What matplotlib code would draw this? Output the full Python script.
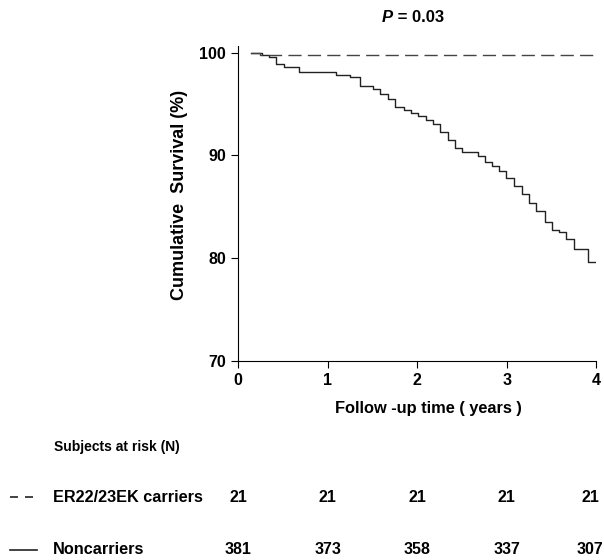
import matplotlib
matplotlib.use('Agg')
import matplotlib.pyplot as plt
import matplotlib.transforms as mtransforms
from matplotlib.lines import Line2D

plt.rcParams['font.family'] = ['Liberation Sans', 'DejaVu Sans']
plt.rcParams['font.weight'] = 'bold'

# Kaplan-Meier step points, noncarriers (years, survival %)
non_t = [0.15, 0.27, 0.35, 0.42, 0.51, 0.68, 1.09, 1.25, 1.36, 1.51, 1.59, 1.67,
         1.75, 1.85, 1.93, 2.01, 2.10, 2.18, 2.26, 2.34, 2.42, 2.50, 2.68, 2.76,
         2.84, 2.91, 2.99, 3.08, 3.17, 3.25, 3.33, 3.43, 3.51, 3.59, 3.66, 3.75,
         3.91, 4.00]
non_s = [100.0, 99.8, 99.6, 98.9, 98.6, 98.1, 97.8, 97.6, 96.8, 96.5, 96.0, 95.5,
         94.7, 94.4, 94.1, 93.8, 93.4, 93.1, 92.3, 91.5, 90.7, 90.3, 89.9, 89.4,
         89.0, 88.5, 87.8, 87.0, 86.3, 85.4, 84.6, 83.5, 82.8, 82.6, 81.9, 80.9,
         79.6, 79.6]

# carriers
car_t = [0.15, 0.25, 4.00]
car_s = [100.0, 99.8, 99.8]

risk_years = [0, 1, 2, 3, 4]
risk_carriers = [21, 21, 21, 21, 21]
risk_non = [381, 373, 358, 337, 307]

fig = plt.figure(figsize=(6.04, 5.60), dpi=100)
ax = fig.add_axes([0.394, 0.355, 0.593, 0.563])

ax.step(non_t, non_s, where='post', color='#222222', linewidth=1.0)
ax.step(car_t, car_s, where='post', color='#444444', linewidth=1.0,
        dashes=(9.5, 4.5))

ax.set_xlim(0, 4)
ax.set_ylim(70, 100.65)
ax.set_xticks([0, 1, 2, 3, 4])
ax.set_yticks([70, 80, 90, 100])
ax.spines['top'].set_visible(False)
ax.spines['right'].set_visible(False)
ax.tick_params(axis='both', labelsize=11.5, length=5, width=0.8)
for lab in ax.get_xticklabels() + ax.get_yticklabels():
    lab.set_fontweight('bold')

fig.text(0.298, 0.652, 'Cumulative  Survival (%)', fontsize=13,
         fontweight='bold', rotation=90, ha='center', va='center')

fig.text(0.651, 0.969, 'P', fontsize=12, fontweight='bold', fontstyle='italic',
         ha='right', va='center')
fig.text(0.651, 0.969, ' = 0.03', fontsize=12, fontweight='bold',
         ha='left', va='center')
fig.text(0.71, 0.271, 'Follow -up time ( years )', fontsize=11.8,
         fontweight='bold', ha='center', va='center')

fig.text(0.09, 0.201, 'Subjects at risk (N)', fontsize=10, fontweight='bold',
         ha='left', va='center')
fig.text(0.0877, 0.1125, 'ER22/23EK carriers', fontsize=11.7,
         fontweight='bold', ha='left', va='center')
fig.text(0.0877, 0.018, 'Noncarriers', fontsize=11.7, fontweight='bold',
         ha='left', va='center')

fig.add_artist(Line2D([0.0166, 0.0613], [0.1125, 0.1125], color='#222222',
                      linewidth=1.2, dashes=(4.8, 4.2)))
fig.add_artist(Line2D([0.0166, 0.0613], [0.018, 0.018], color='#222222',
                      linewidth=1.2))

trans = mtransforms.blended_transform_factory(ax.transData, fig.transFigure)
for x, c, n in zip(risk_years, risk_carriers, risk_non):
    tr = trans
    if x == risk_years[-1]:
        tr = mtransforms.offset_copy(trans, fig=fig, x=-6, units='dots')
    ax.text(x, 0.1125, str(c), transform=tr, fontsize=11.5,
            fontweight='bold', ha='center', va='center', clip_on=False)
    ax.text(x, 0.018, str(n), transform=tr, fontsize=11.5,
            fontweight='bold', ha='center', va='center', clip_on=False)

fig.savefig('out.png', dpi=100)
